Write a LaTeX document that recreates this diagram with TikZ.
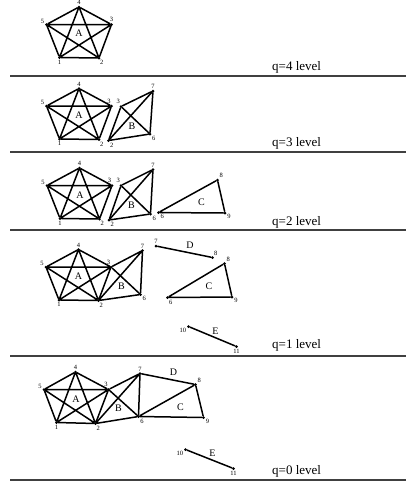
\documentclass[tikz,border=0pt]{standalone}
\usepackage{fontspec}
\setmainfont{Liberation Serif}
\tikzset{
  dot/.style={
    circle,
    fill=black,
    inner sep=0pt,
    minimum size=3pt,
    label distance=0.6pt
    },
  num/.style={
    font=\fontsize{6.5}{7}\selectfont,
    inner sep=0.6pt
    },
  face/.style={
    font=\fontsize{10}{12}\selectfont,
    inner sep=0pt
    },
  level/.style={
    font=\fontsize{13}{15}\selectfont,
    anchor=base west,
    inner sep=0pt
    },
  link/.style={line width=1.5pt, line cap=round},
  sepline/.style={line width=1.8pt, draw=black!75}
}

\begin{document}
\begin{tikzpicture}[x=1pt, y=-1pt]
\useasboundingbox (0,0) rectangle (406,491);

% q=4
\node (q4v4) [dot,label={[num]90:4}] at (79,7) {};
\node (q4v5) [dot,label={[num]170:5}] at (46.5,24.5) {};
\node (q4v3) [dot,label={[num]90:3}] at (111.5,24.5) {};
\node (q4v1) [dot,label={[num]270:1}] at (59.5,57.5) {};
\node (q4v2) [dot,label={[num]-80:2}] at (99,58) {};
\node (q4A) [face] at (79,33) {A};
\node (lvl4) [level] at (272,70) {q=4 level};
\draw[link] (q4v1) -- (q4v2) -- (q4v3) -- (q4v4) -- (q4v5) -- (q4v1) -- (q4v3) -- (q4v5) -- (q4v2) -- (q4v4) -- (q4v1);
\draw[sepline] (10,76) -- (406,76);

% q=3
\node (q3v4) [dot,label={[num]90:4}] at (79,88.5) {};
\node (q3v5) [dot,label={[num]170:5}] at (46.5,106) {};
\node (q3v3) [dot,label={[num]95:3}] at (111.5,106) {};
\node (q3v1) [dot,label={[num]270:1}] at (59.5,139) {};
\node (q3v2) [dot,label={[num]-80:2}] at (99,139.5) {};
\node (q3A) [face] at (79,115) {A};
\node (q3b3) [dot,label={[num]100:3}] at (121,106.5) {};
\node (q3b7) [dot,label={[num]90:7}] at (153,91) {};
\node (q3b6) [dot,label={[num]-45:6}] at (150,134) {};
\node (q3b2) [dot,label={[num]-60:2}] at (108.5,140.5) {};
\node (q3B) [face] at (132,126) {B};
\node (lvl3) [level] at (272,146) {q=3 level};
\draw[link] (q3v1) -- (q3v2) -- (q3v3) -- (q3v4) -- (q3v5) -- (q3v1) -- (q3v3) -- (q3v5) -- (q3v2) -- (q3v4) -- (q3v1);
\draw[link] (q3b3) -- (q3b7) -- (q3b6) -- (q3b2) -- (q3b3) -- (q3b6);
\draw[link] (q3b2) -- (q3b7);
\draw[sepline] (10,152) -- (406,152);

% q=2
\node (q2v4) [dot,label={[num]90:4}] at (79.5,168) {};
\node (q2v5) [dot,label={[num]170:5}] at (47,185.5) {};
\node (q2v3) [dot,label={[num]95:3}] at (112,185.5) {};
\node (q2v1) [dot,label={[num]270:1}] at (60,218.5) {};
\node (q2v2) [dot,label={[num]-80:2}] at (99.5,219) {};
\node (q2A) [face] at (80,195) {A};
\node (q2b3) [dot,label={[num]100:3}] at (121,185.5) {};
\node (q2b7) [dot,label={[num]90:7}] at (153,169.5) {};
\node (q2b6) [dot,label={[num]-45:6}] at (150.5,214) {};
\node (q2b2) [dot,label={[num]-60:2}] at (109,220) {};
\node (q2B) [face] at (131.5,205) {B};
\node (q2c6) [dot,label={[num]-40:6}] at (158.5,212.5) {};
\node (q2c8) [dot,label={[num]45:8}] at (217.5,180) {};
\node (q2c9) [dot,label={[num]-20:9}] at (225,213) {};
\node (q2C) [face] at (201.5,202.5) {C};
\node (lvl2) [level] at (272,225) {q=2 level};
\draw[link] (q2v1) -- (q2v2) -- (q2v3) -- (q2v4) -- (q2v5) -- (q2v1) -- (q2v3) -- (q2v5) -- (q2v2) -- (q2v4) -- (q2v1);
\draw[link] (q2b3) -- (q2b7) -- (q2b6) -- (q2b2) -- (q2b3) -- (q2b6);
\draw[link] (q2b2) -- (q2b7);
\draw[link] (q2c6) -- (q2c8) -- (q2c9) -- (q2c6);
\draw[sepline] (10,230) -- (406,230);

% q=1
\node (q1v4) [dot,label={[num]90:4}] at (78.5,249.5) {};
\node (q1v5) [dot,label={[num]170:5}] at (46,267) {};
\node (q1v3) [dot,label={[num]95:3}] at (111,267) {};
\node (q1v1) [dot,label={[num]270:1}] at (59,300) {};
\node (q1v2) [dot,label={[num]-80:2}] at (98.5,300.5) {};
\node (q1A) [face] at (78.5,276) {A};
\node (q1b7) [dot,label={[num]90:7}] at (142.5,250.5) {};
\node (q1b6) [dot,label={[num]-45:6}] at (140.5,294.5) {};
\node (q1B) [face] at (121.5,286) {B};
\node (q1d7) [dot,label={[num]90:7}] at (156,246) {};
\node (q1d8) [dot,label={[num]60:8}] at (212.5,257.5) {};
\node (q1D) [face] at (190,245) {D};
\node (q1c8) [dot,label={[num]45:8}] at (224.5,263.5) {};
\node (q1c6) [dot,label={[num]-60:6}] at (167.5,297.5) {};
\node (q1c9) [dot,label={[num]-20:9}] at (232,297) {};
\node (q1C) [face] at (209,286) {C};
\node (q1e10) [dot,label={[num]-150:10}] at (188.5,326.5) {};
\node (q1e11) [dot,label={[num]-90:11}] at (236.5,346.5) {};
\node (q1E) [face] at (215.5,331) {E};
\node (lvl1) [level] at (272,348) {q=1 level};
\draw[link] (q1v1) -- (q1v2) -- (q1v3) -- (q1v4) -- (q1v5) -- (q1v1) -- (q1v3) -- (q1v5) -- (q1v2) -- (q1v4) -- (q1v1);
\draw[link] (q1v3) -- (q1b7) -- (q1b6) -- (q1v2) -- (q1b7);
\draw[link] (q1v3) -- (q1b6);
\draw[link] (q1d7) -- (q1d8);
\draw[link] (q1c6) -- (q1c8) -- (q1c9) -- (q1c6);
\draw[link] (q1e10) -- (q1e11);
\draw[sepline] (10,356) -- (406,356);

% q=0
\node (q0v4) [dot,label={[num]90:4}] at (75.5,372) {};
\node (q0v5) [dot,label={[num]170:5}] at (44,389.5) {};
\node (q0v3) [dot,label={[num]95:3}] at (108.5,389.5) {};
\node (q0v1) [dot,label={[num]270:1}] at (56.5,422.5) {};
\node (q0v2) [dot,label={[num]-80:2}] at (95.5,423.5) {};
\node (q0A) [face] at (76,399) {A};
\node (q0v7) [dot,label={[num]90:7}] at (140,373.5) {};
\node (q0v6) [dot,label={[num]-55:6}] at (138.5,416.5) {};
\node (q0v8) [dot,label={[num]45:8}] at (195.5,384.5) {};
\node (q0v9) [dot,label={[num]-20:9}] at (203.5,417.5) {};
\node (q0B) [face] at (118.5,408.5) {B};
\node (q0C) [face] at (180.5,407) {C};
\node (q0D) [face] at (173.5,372) {D};
\node (q0e10) [dot,label={[num]-150:10}] at (185.5,449.5) {};
\node (q0e11) [dot,label={[num]-90:11}] at (233.5,468.5) {};
\node (q0E) [face] at (212.5,453.5) {E};
\node (lvl0) [level] at (272,474) {q=0 level};
\draw[link] (q0v1) -- (q0v2) -- (q0v3) -- (q0v4) -- (q0v5) -- (q0v1) -- (q0v3) -- (q0v5) -- (q0v2) -- (q0v4) -- (q0v1);
\draw[link] (q0v3) -- (q0v7) -- (q0v6) -- (q0v2) -- (q0v7);
\draw[link] (q0v3) -- (q0v6);
\draw[link] (q0v7) -- (q0v8) -- (q0v9) -- (q0v6) -- (q0v8);
\draw[link] (q0e10) -- (q0e11);
\draw[sepline] (10,480) -- (406,480);
\end{tikzpicture}
\end{document}
